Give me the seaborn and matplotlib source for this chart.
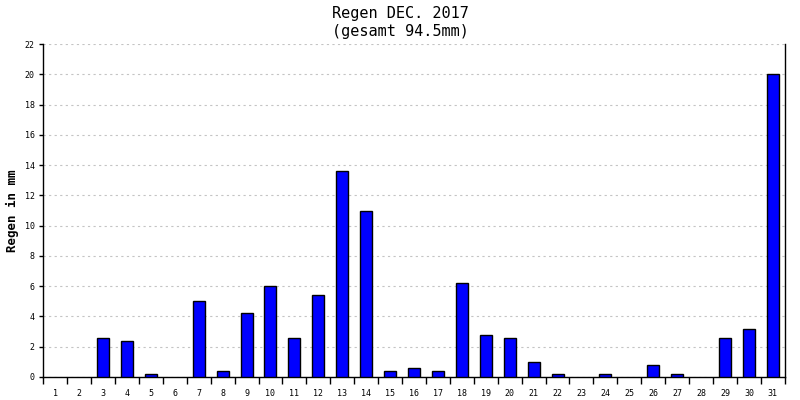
import matplotlib
matplotlib.use('Agg')
import matplotlib.pyplot as plt
import seaborn as sns
import pandas as pd
from matplotlib.ticker import FixedLocator, MultipleLocator

# daily rain, December 2017
days = [str(d) for d in range(1, 32)]
rain_mm = [0, 0, 2.6, 2.4, 0.2, 0, 5.0, 0.4, 4.2, 6.0, 2.6, 5.4, 13.6, 11.0, 0.4,
           0.6, 0.4, 6.2, 2.8, 2.6, 1.0, 0.2, 0, 0.2, 0, 0.8, 0.2, 0, 2.6, 3.2, 20.0]

df = pd.DataFrame({'day': days, 'rain': rain_mm})

sns.set_style("white")
plt.rcParams['font.family'] = ['DejaVu Sans Mono', 'DejaVu Sans']
plt.rcParams['text.color'] = 'black'
plt.rcParams['axes.labelcolor'] = 'black'

fig = plt.figure(figsize=(8, 4), dpi=100)
ax = fig.add_axes([0.054, 0.0575, 0.927, 0.8325])

sns.barplot(x='day', y='rain', data=df, color='#0000FF', edgecolor='black',
            linewidth=1, width=0.5, saturation=1, ax=ax, zorder=3)

# no outline for empty days
for bar, v in zip(ax.patches, rain_mm):
    if v == 0:
        bar.set_visible(False)

ax.set_xlim(-0.5, len(days) - 0.5)
ax.set_ylim(0, 22)
ax.yaxis.set_major_locator(MultipleLocator(2))
ax.yaxis.grid(True, linestyle=(0, (2, 3)), color='#c4c4c4', linewidth=0.8, zorder=0)

# ticks between the bars
ax.xaxis.set_minor_locator(FixedLocator([i - 0.5 for i in range(len(days) + 1)]))
ax.tick_params(axis='x', which='major', bottom=True, length=0, labelsize=6, pad=9,
               labelcolor='black')
ax.tick_params(axis='x', which='minor', bottom=True, length=5, width=1, color='black',
               direction='out')
ax.tick_params(axis='y', left=True, length=3, width=1, color='black', labelsize=6, pad=3,
               direction='out', labelcolor='black')

for side in ['left', 'right', 'bottom']:
    ax.spines[side].set_visible(True)
    ax.spines[side].set_color('black')
    ax.spines[side].set_linewidth(1)
ax.spines['top'].set_visible(False)

ax.set_xlabel('')
ax.set_ylabel('Regen in mm', fontsize=9, fontweight='bold', labelpad=4)
fig.suptitle('Regen DEC. 2017\n(gesamt 94.5mm)', fontsize=11, y=0.985, linespacing=1.25)

fig.savefig('out.png', dpi=100)
